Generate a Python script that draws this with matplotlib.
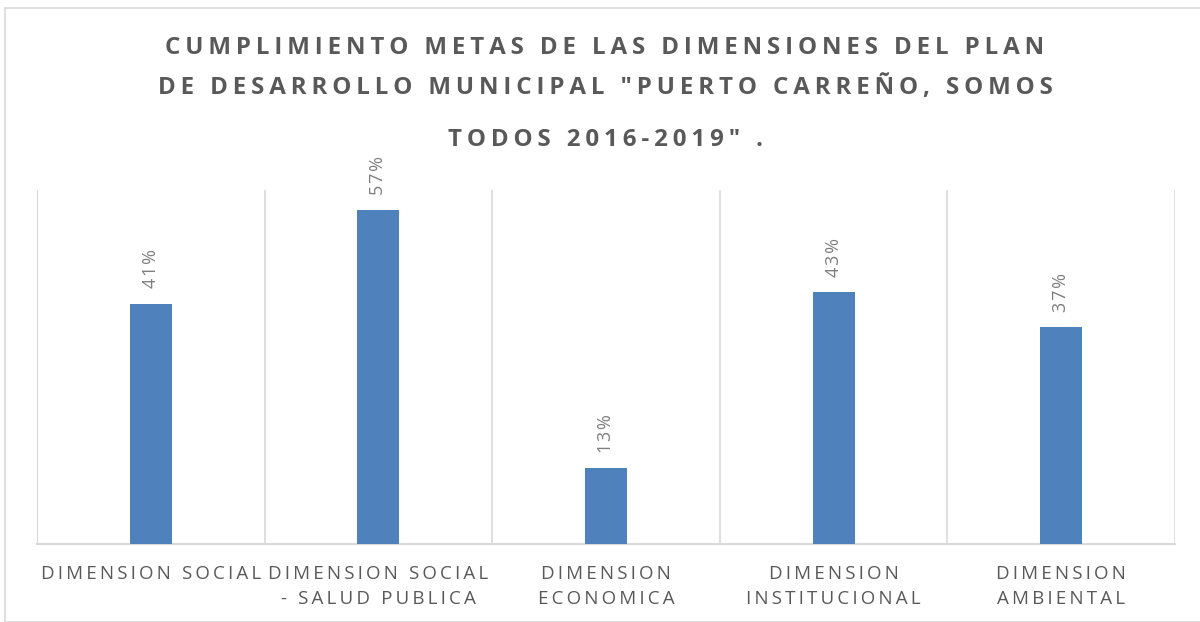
import matplotlib.pyplot as plt
from matplotlib.patches import Rectangle

# Data
categorias = ["DIMENSION SOCIAL", "DIMENSION SOCIAL\n- SALUD PUBLICA", "DIMENSION\nECONOMICA",
              "DIMENSION\nINSTITUCIONAL", "DIMENSION\nAMBIENTAL"]
cumplimiento = [0.41, 0.57, 0.13, 0.43, 0.37]
etiquetas = ["41%", "57%", "13%", "43%", "37%"]
titulo = ['CUMPLIMIENTO METAS DE LAS DIMENSIONES DEL PLAN',
          'DE DESARROLLO MUNICIPAL "PUERTO CARREÑO, SOMOS',
          'TODOS 2016-2019" .']

GRIS = '#595959'
AZUL = '#4F81BD'


def espaciar(texto, sep='\u2009'):
    # letter spacing like the Excel chart
    return '\n'.join(sep.join(list(linea)) for linea in texto.split('\n'))


fig = plt.figure(figsize=(12, 6.22), dpi=100)
ax = fig.add_axes([37 / 1200, 1 - 544 / 622, (1175 - 37) / 1200, (544 - 190) / 622])

x = range(len(categorias))
ax.bar(x, cumplimiento, width=0.185, color=AZUL, zorder=3)
for i, (v, t) in enumerate(zip(cumplimiento, etiquetas)):
    ax.annotate(espaciar(t, '\u200a'), (i, v), xytext=(0, 11), textcoords='offset points', rotation=90,
                ha='center', va='bottom', color='#7F7F7F', fontsize=13, family='Open Sans')

ax.set_xlim(-0.5, len(categorias) - 0.5)
ax.set_ylim(0, 0.604)
ax.set_yticks([])
ax.set_xticks(x)
ax.set_xticklabels([espaciar(c, '\u2009') for c in categorias], fontsize=13.5, color=GRIS,
                   family='Open Sans', linespacing=1.5)
ax.tick_params(axis='x', length=0, pad=15)
for s in ['top', 'right']:
    ax.spines[s].set_visible(False)
ax.spines['left'].set_color('#D9D9D9')
ax.spines['bottom'].set_color('#D9D9D9')
ax.spines['bottom'].set_linewidth(1.5)
for k in range(1, len(categorias) + 1):
    ax.axvline(k - 0.5, color='#D9D9D9', lw=1.2, zorder=1)

# Title lines
ys = [48, 88, 140]
for linea, y in zip(titulo, ys):
    fig.text(0.5 + 5 / 1200, 1 - y / 622, espaciar(linea, '\u2009'), ha='center', va='center',
             fontsize=17.4, fontweight='bold', color=GRIS, family='Open Sans')

# chart border
fig.patches.append(Rectangle((5 / 1200, 0), 1.0, 1 - 8 / 622, transform=fig.transFigure,
                             fill=False, edgecolor='#D9D9D9', lw=1.2))

fig.savefig('out.png', dpi=100)
